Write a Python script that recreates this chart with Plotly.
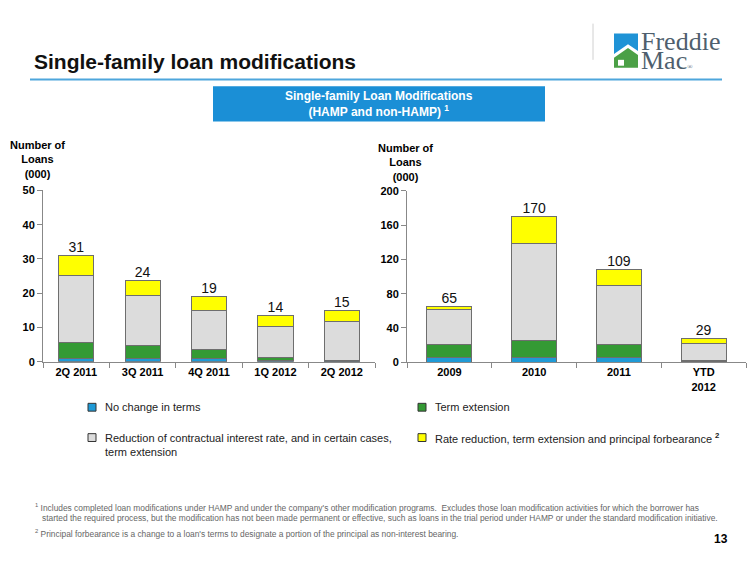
import plotly.graph_objects as go

W, H = 750, 562

# ---------------- data ----------------
quarters = ["2Q 2011", "3Q 2011", "4Q 2011", "1Q 2012", "2Q 2012"]
q_no_change = [1.0, 1.0, 0.8, 0.3, 0.1]
q_term_ext = [4.5, 3.7, 2.7, 1.0, 0.4]
q_rate_red = [19.6, 14.5, 11.4, 8.9, 11.2]
q_forbear = [5.9, 4.5, 4.1, 3.3, 3.3]
q_labels = ["31", "24", "19", "14", "15"]

years = ["2009", "2010", "2011", "YTD<br>2012"]
y_no_change = [5.7, 5.0, 5.0, 0.5]
y_term_ext = [15.3, 20.5, 15.2, 1.0]
y_rate_red = [40.7, 113.5, 68.9, 20.6]
y_forbear = [3.1, 31.0, 19.5, 6.1]
y_labels = ["65", "170", "109", "29"]

left_ticks = [0, 10, 20, 30, 40, 50]
right_ticks = [0, 40, 80, 120, 160, 200]

series_names = [
    "No change in terms",
    "Term extension",
    "Reduction of contractual interest rate, and in certain cases, term extension",
    "Rate reduction, term extension and principal forbearance",
]
colors = ["#1f9ad6", "#349a34", "#dcdcdc", "#ffff00"]
OUTLINE = "#6e6e6e"

NARROW = "Liberation Sans Narrow, Arial Narrow, Liberation Sans, Arial"
ARIAL = "Liberation Sans, Arial"


def px(x):
    return x / W


def py(y):
    return 1 - y / H


fig = go.Figure()

q_series = [q_no_change, q_term_ext, q_rate_red, q_forbear]
y_series = [y_no_change, y_term_ext, y_rate_red, y_forbear]

for name, col, vals in zip(series_names, colors, q_series):
    fig.add_trace(go.Bar(x=quarters, y=vals, name=name, marker=dict(color=col, line=dict(color=OUTLINE, width=1)),
                         width=0.53, xaxis="x", yaxis="y", showlegend=False, hoverinfo="skip"))
for name, col, vals in zip(series_names, colors, y_series):
    fig.add_trace(go.Bar(x=years, y=vals, name=name, marker=dict(color=col, line=dict(color=OUTLINE, width=1)),
                         width=0.53, xaxis="x2", yaxis="y2", showlegend=False, hoverinfo="skip"))

q_tot = [sum(v) for v in zip(*q_series)]
y_tot = [sum(v) for v in zip(*y_series)]
fig.add_trace(go.Scatter(x=quarters, y=q_tot, text=q_labels, mode="text", textposition="top center",
                         textfont=dict(family=ARIAL, size=14, color="#111"), xaxis="x", yaxis="y",
                         showlegend=False, hoverinfo="skip", cliponaxis=False))
fig.add_trace(go.Scatter(x=years, y=y_tot, text=y_labels, mode="text", textposition="top center",
                         textfont=dict(family=ARIAL, size=14, color="#111"), xaxis="x2", yaxis="y2",
                         showlegend=False, hoverinfo="skip", cliponaxis=False))

axis_common = dict(showgrid=False, zeroline=False, showline=True, linecolor="#888", linewidth=1,
                   ticks="outside", ticklen=5, tickcolor="#888",
                   tickfont=dict(family=NARROW, size=11, color="#000", weight="bold"))

fig.update_layout(
    width=W, height=H, autosize=False, margin=dict(l=0, r=0, t=0, b=0, pad=0),
    paper_bgcolor="white", plot_bgcolor="white", barmode="stack", bargap=0.47,
    xaxis=dict(domain=[px(43), px(375)], anchor="y", type="category", range=[-0.5, 4.5],
               tickson="boundaries", **axis_common),
    yaxis=dict(domain=[py(363.5), py(188.5)], anchor="x", range=[0, 50], tickvals=left_ticks, **axis_common),
    xaxis2=dict(domain=[px(407), px(746)], anchor="y2", type="category", range=[-0.5, 3.5],
                tickson="boundaries", **axis_common),
    yaxis2=dict(domain=[py(364), py(189)], anchor="x2", range=[0, 200], tickvals=right_ticks, **axis_common),
)

shapes = []
annotations = []

# title & underline
annotations.append(dict(x=px(32), y=py(57), xref="paper", yref="paper", xanchor="left", yanchor="middle",
                        text="<b>Single-family loan modifications</b>", showarrow=False,
                        font=dict(family=ARIAL, size=21, color="#111")))
shapes.append(dict(type="line", xref="paper", yref="paper", x0=px(30), x1=px(722), y0=py(75), y1=py(75),
                   line=dict(color="#4ea6dc", width=2)))

# logo
shapes.append(dict(type="line", xref="paper", yref="paper", x0=px(593), x1=px(593), y0=py(18), y1=py(55),
                   line=dict(color="#d0d0d0", width=1)))


def path(pts):
    return "M " + " L ".join(f"{px(a)},{py(b)}" for a, b in pts) + " Z"


shapes.append(dict(type="path", xref="paper", yref="paper",
                   path=path([(614, 28), (638, 28), (638, 46), (628, 39), (614, 49)]),
                   fillcolor="#1f93d6", line=dict(width=0)))
shapes.append(dict(type="path", xref="paper", yref="paper",
                   path=path([(614, 63), (614, 53), (628, 43), (638, 50), (638, 63)]),
                   fillcolor="#4ba046", line=dict(width=0)))
shapes.append(dict(type="rect", xref="paper", yref="paper", x0=px(618), x1=px(624), y0=py(61), y1=py(55),
                   fillcolor="white", line=dict(width=0)))
annotations.append(dict(x=px(639), y=py(36), xref="paper", yref="paper", xanchor="left", yanchor="middle",
                        text="Freddie", showarrow=False,
                        font=dict(family="Liberation Serif, Times New Roman", size=26, color="#4f5f6e")))
annotations.append(dict(x=px(639), y=py(56), xref="paper", yref="paper", xanchor="left", yanchor="middle",
                        text="Mac<span style='font-size:7px'>®</span>", showarrow=False,
                        font=dict(family="Liberation Serif, Times New Roman", size=26, color="#4f5f6e")))

# banner
shapes.append(dict(type="rect", xref="paper", yref="paper", x0=px(213), x1=px(545), y0=py(118), y1=py(82),
                   fillcolor="#1b8fd6", line=dict(width=0)))
annotations.append(dict(x=px(379), y=py(100), xref="paper", yref="paper", xanchor="center", yanchor="middle",
                        text="<b>Single-family Loan Modifications<br>(HAMP and non-HAMP) <sup>1</sup></b>",
                        showarrow=False, font=dict(family=ARIAL, size=12, color="white")))

# axis titles
for xc, yc in [(37, 157), (405, 160)]:
    annotations.append(dict(x=px(xc), y=py(yc), xref="paper", yref="paper", xanchor="center", yanchor="middle",
                            text="<b>Number of<br>Loans<br>(000)</b>", showarrow=False,
                            font=dict(family=NARROW, size=11, color="#000")))

# legend
legend_items = [
    (92, 410, colors[0], "No change in terms"),
    (92, 441, colors[2], "Reduction of contractual interest rate, and in certain cases,<br>term extension"),
    (422, 410, colors[1], "Term extension"),
    (422, 441, colors[3], "Rate reduction, term extension and principal forbearance <sup><b>2</b></sup>"),
]
for xs, ys, col, txt in legend_items:
    shapes.append(dict(type="rect", xref="paper", yref="paper", x0=px(xs - 4), x1=px(xs + 4),
                       y0=py(ys + 4), y1=py(ys - 4), fillcolor=col, line=dict(color="#333", width=1)))
    annotations.append(dict(x=px(xs + 11), y=py(ys), xref="paper", yref="paper", xanchor="left",
                            yanchor="top" if "<br>" in txt else "middle",
                            yshift=8 if "<br>" in txt else 0,
                            text=txt, showarrow=False, align="left",
                            font=dict(family=ARIAL, size=11, color="#222")))

# footnotes
annotations.append(dict(x=px(33), y=py(505), xref="paper", yref="paper", xanchor="left", yanchor="top",
                        text="<sup>1</sup> Includes completed loan modifications under HAMP and under the company's other modification programs.  Excludes those loan modification activities for which the borrower has<br>   started the required process, but the modification has not been made permanent or effective, such as loans in the trial period under HAMP or under the standard modification initiative.",
                        showarrow=False, align="left", font=dict(family=ARIAL, size=8.4, color="#666")))
annotations.append(dict(x=px(33), y=py(531), xref="paper", yref="paper", xanchor="left", yanchor="top",
                        text="<sup>2</sup> Principal forbearance is a change to a loan's terms to designate a portion of the principal as non-interest bearing.",
                        showarrow=False, align="left", font=dict(family=ARIAL, size=8.4, color="#666")))
annotations.append(dict(x=px(721), y=py(545), xref="paper", yref="paper", xanchor="center", yanchor="middle",
                        text="<b>13</b>", showarrow=False, font=dict(family=NARROW, size=12, color="#000")))

fig.update_layout(shapes=shapes, annotations=annotations)
fig.write_html("out.html", config={"displayModeBar": False, "responsive": False},
               post_script="document.body.style.margin='0';document.body.style.padding='0';")
